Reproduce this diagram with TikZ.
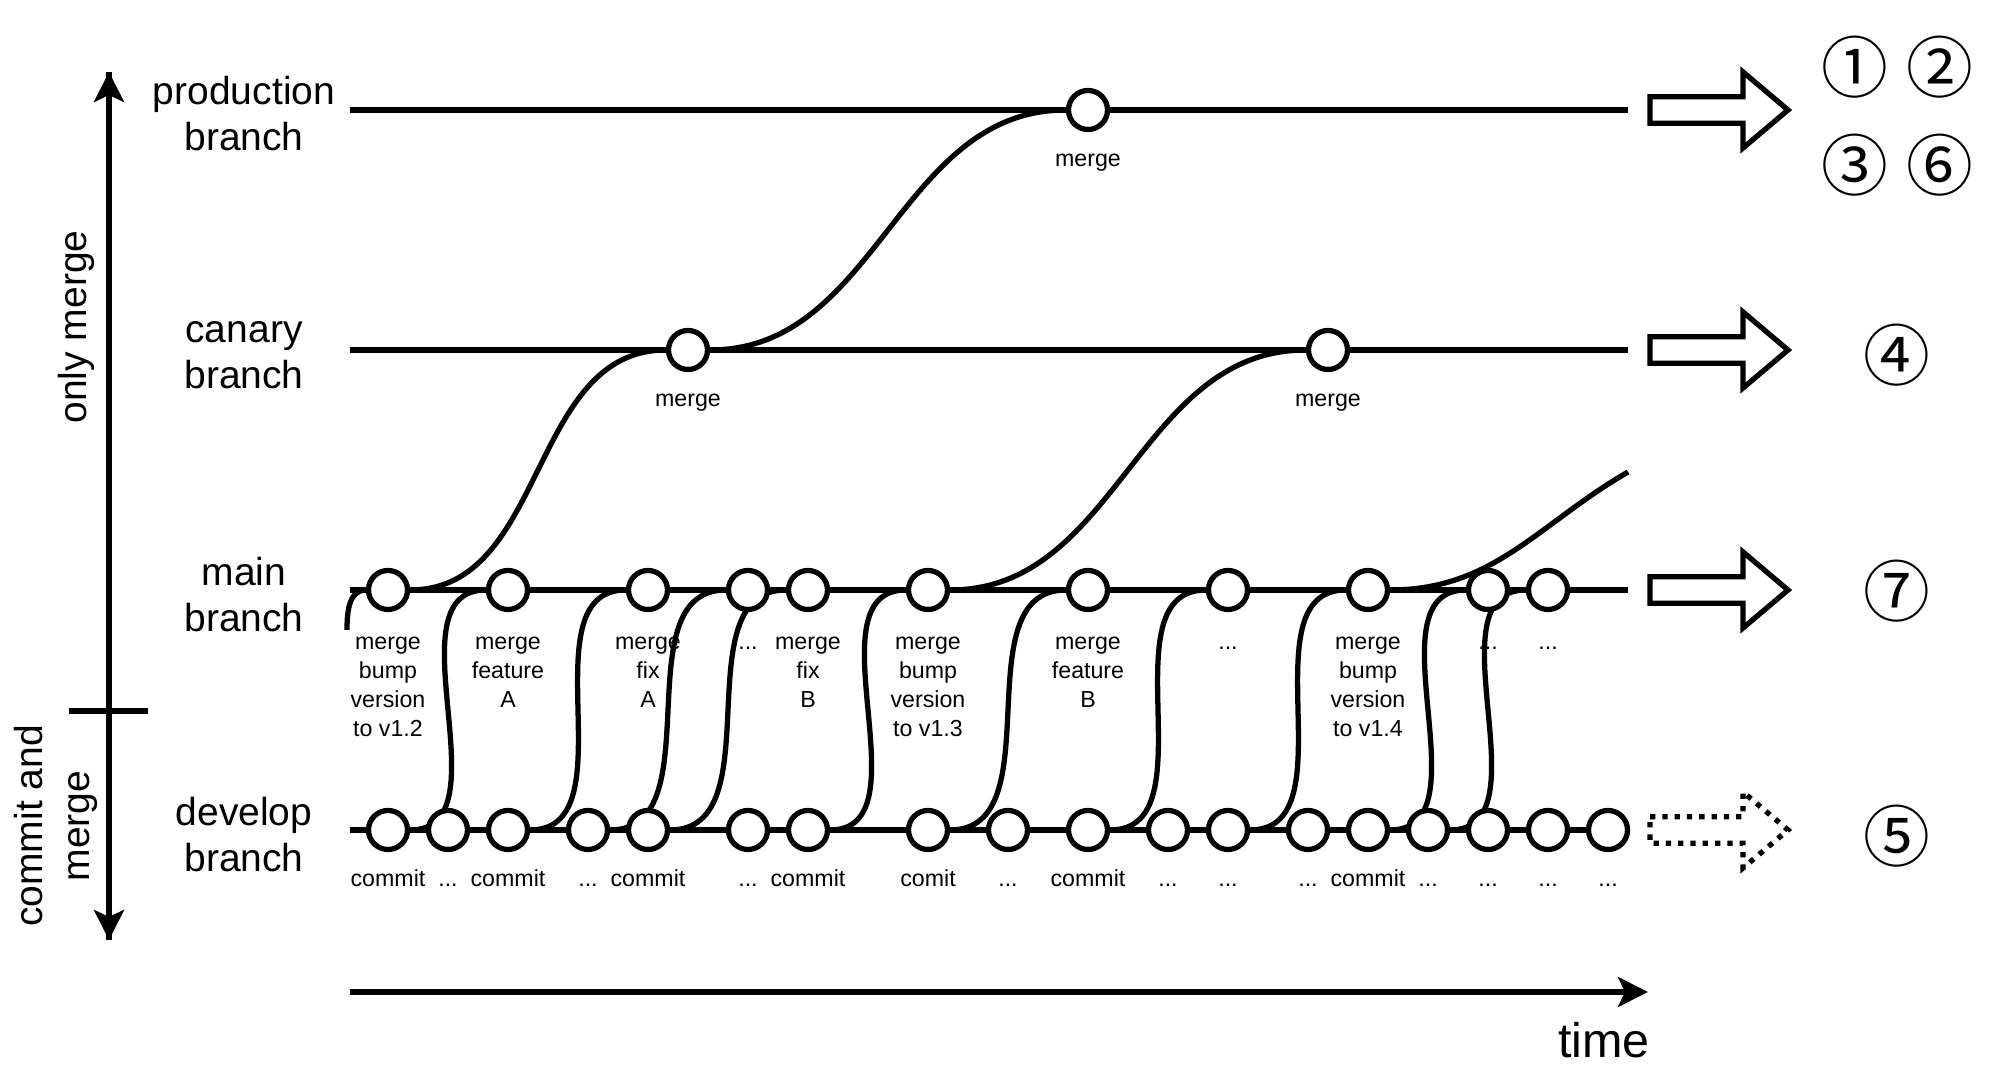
\documentclass[tikz,border=0pt]{standalone}
\usepackage{fontspec}
\setmainfont{Liberation Sans}
\newfontfamily\circfont{Noto Sans CJK JP}
\usetikzlibrary{arrows.meta}
\pgfdeclarelayer{bg}
\pgfsetlayers{bg,main}
\newcommand\dotdot{...}

\begin{document}
\begin{tikzpicture}[x=1mm,y=1mm,line width=1.5pt,
	wire/.style={line width=1.5pt},
	commit/.style={wire,circle,draw,fill=white,inner sep=0pt,minimum size=3.9mm},
	tag/.style={font=\fontsize{6.6}{8.25}\selectfont,inner sep=0pt,align=center},
	branchname/.style={font=\fontsize{11.1}{13.1}\selectfont,inner sep=0pt,align=center},
	blockarrow/.style={wire,line join=miter},
	num/.style={font=\circfont\fontsize{19}{19}\selectfont,inner sep=0pt},
	tip/.style={wire,-{Stealth[length=3mm,width=3mm,inset=0.7mm]}}]

\useasboundingbox (0,0) rectangle (199,106.6);

%% branch names
\node[branchname] (nprod) at (24.4,95.2) {production\\branch};
\node[branchname] (ncan) at (24.4,71.1) {canary\\branch};
\node[branchname] (nmain) at (24.4,47.1) {main\\branch};
\node[branchname] (ndev) at (24.4,23.1) {develop\\branch};

\node[branchname,rotate=90] (only) at (7.6,73.9) {only merge};
\node[branchname,rotate=90,font=\fontsize{11.1}{13.4}\selectfont] (both) at (5.6,24.0) {commit and\\merge};

%% commits on main
\foreach \x/\t [count=\i] in {38.8/{merge\\bump\\version\\to v1.2},50.8/{merge\\feature\\A},
	64.8/{merge\\fix\\A},74.8/{\vphantom{e}\dotdot},80.8/{merge\\fix\\B},
	92.8/{merge\\bump\\version\\to v1.3},108.8/{merge\\feature\\B},122.8/{\vphantom{e}\dotdot},
	136.8/{merge\\bump\\version\\to v1.4},148.8/{\vphantom{e}\dotdot},154.8/{\vphantom{e}\dotdot}}{
	\node[commit] (m\i) at (\x,47.6) {};
	\node[tag,anchor=north] (mt\i) at (\x,43.2) {\t};
}

%% commits on develop
\foreach \x/\t [count=\i] in {38.8/commit,44.8/\dotdot,50.8/commit,58.8/\dotdot,64.8/commit,
	74.8/\dotdot,80.8/commit,92.8/comit,100.8/\dotdot,108.8/commit,116.8/\dotdot,122.8/\dotdot,
	130.8/\dotdot,136.8/commit,142.8/\dotdot,148.8/\dotdot,154.8/\dotdot,160.8/\dotdot}{
	\node[commit] (d\i) at (\x,23.6) {};
	\node[tag,anchor=base] (dt\i) at (\x,17.9) {\t};
}

%% canary and production
\node[commit] (c1) at (68.8,71.6) {};
\node[commit] (c2) at (132.8,71.6) {};
\node[commit] (p1) at (108.8,95.6) {};
\node[tag,anchor=base] (ct1) at (68.8,65.9) {merge};
\node[tag,anchor=base] (ct2) at (132.8,65.9) {merge};
\node[tag,anchor=base] (pt1) at (108.8,89.9) {merge};

\begin{pgfonlayer}{bg}
\begin{scope}[wire]
\coordinate (ps) at (35,95.6); \coordinate (pe) at (162.8,95.6);
\coordinate (cs) at (35,71.6); \coordinate (ce) at (162.8,71.6);
\coordinate (ms) at (35,47.6); \coordinate (me) at (162.8,47.6);
\coordinate (ds) at (35,23.6); \coordinate (de) at (162.8,23.6);
\draw (ps)--(pe);
\draw (cs)--(ce);
\draw (ms)--(me);
\draw (ds)--(de);

% develop -> main
\foreach \a/\b in {1/2,3/3,4/4,5/5,7/6,8/7,10/8,12/9,14/10,15/11}
	\draw (d\a) to[out=0,in=180] (m\b);
\coordinate (stub) at (34.7,43.6);
\draw (stub) to[out=90,in=180] (m1);

% main -> canary -> production
\draw (m1) to[out=0,in=180] (c1);
\draw (m6) to[out=0,in=180] (c2);
\coordinate (mx) at (162.8,59.4);
\draw (m9) to[out=0,in=210] (mx);
\draw (c1) to[out=0,in=180] (p1);
\end{scope}
\end{pgfonlayer}

%% block arrows
\foreach \yy in {95.6,71.6,47.6}
	\draw[blockarrow] (165,\yy+1.33)--(174.3,\yy+1.33)--(174.3,\yy+3.8)--(178.8,\yy)
		--(174.3,\yy-3.8)--(174.3,\yy-1.33)--(165,\yy-1.33)--cycle;
\draw[blockarrow,dash pattern=on 1.5pt off 2pt] (165,24.93)--(174.3,24.93)--(174.3,27.4)--(178.8,23.6)
	--(174.3,19.8)--(174.3,22.27)--(165,22.27)--cycle;

\node[num] (n1) at (185.5,99.9) {①};
\node[num] (n2) at (194.0,99.9) {②};
\node[num] (n3) at (185.5,90.1) {③};
\node[num] (n6) at (194.0,90.1) {⑥};
\node[num] (n4) at (189.7,71.1) {④};
\node[num] (n7) at (189.7,47.5) {⑦};
\node[num] (n5) at (189.7,23.0) {⑤};

%% axes
\coordinate (ax0) at (10.9,12.6);
\coordinate (ax1) at (10.9,99.4);
\draw[tip] (ax0)--(ax1);
\draw[tip] (ax1)--(ax0);
\coordinate (tk0) at (6.9,35.5);
\coordinate (tk1) at (14.8,35.5);
\draw[wire] (tk0)--(tk1);

\coordinate (t0) at (35,7.4);
\coordinate (t1) at (164.8,7.4);
\draw[tip] (t0)--(t1);
\node[font=\fontsize{13.8}{16}\selectfont,anchor=base,inner sep=0pt] (tm) at (160.4,0.8) {time};

\end{tikzpicture}
\end{document}
